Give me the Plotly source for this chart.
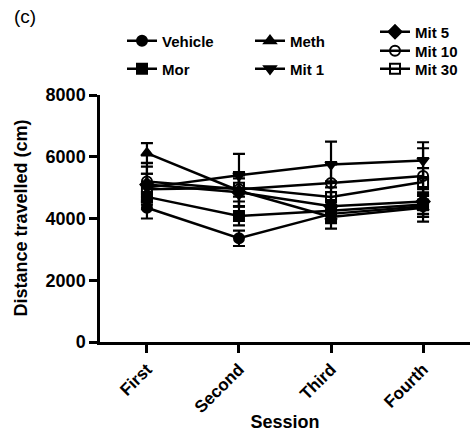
import plotly.graph_objects as go

sessions = ["First", "Second", "Third", "Fourth"]

series_names = ["Vehicle", "Mor", "Meth", "Mit 1", "Mit 5", "Mit 10", "Mit 30"]
vehicle = [4350, 3360, 4150, 4400]
vehicle_err = [350, 250, 300, 350]
mor = [4700, 4080, 4250, 4450]
mor_err = [400, 300, 350, 400]
meth = [6120, 4900, 4050, 4350]
meth_err = [320, 500, 380, 450]
mit1 = [5000, 5400, 5750, 5880]
mit1_err = [450, 690, 740, 590]
mit5 = [5100, 4850, 4400, 4550]
mit5_err = [580, 450, 450, 400]
mit10 = [5200, 4950, 5150, 5380]
mit10_err = [590, 550, 600, 895]
mit30 = [4950, 5000, 4700, 5180]
mit30_err = [500, 450, 500, 450]

yticks = [0, 2000, 4000, 6000, 8000]

values = [vehicle, mor, meth, mit1, mit5, mit10, mit30]
errors = [vehicle_err, mor_err, meth_err, mit1_err, mit5_err, mit10_err, mit30_err]
symbols = ["circle", "square", "triangle-up", "triangle-down", "diamond", "circle-open", "square-open"]

# legend entry placement (container pixels): left x, centre y
legend_pos = [(122, 41), (122, 69), (250, 41), (250, 69), (375, 32), (375, 51), (375, 69)]

BOLD = "Liberation Sans, Arial, sans-serif"
W, H = 470, 432

fig = go.Figure()
legend_layout = {}
for i, (name, v, e, s) in enumerate(zip(series_names, values, errors, symbols)):
    key = "legend" if i == 0 else f"legend{i + 1}"
    fig.add_trace(go.Scatter(
        x=sessions, y=v, name=name, mode="lines+markers",
        line=dict(color="black", width=2.5),
        marker=dict(symbol=s, size=10, color="black",
                    line=dict(color="black", width=2)),
        error_y=dict(type="data", array=e, visible=True, color="black",
                     thickness=2.2, width=6),
        legend=key,
    ))
    lx, ly = legend_pos[i]
    legend_layout[key] = dict(
        font=dict(family=BOLD, size=15, color="black", weight="bold"),
        bgcolor="rgba(0,0,0,0)", xref="container", yref="container",
        xanchor="left", yanchor="middle", itemwidth=30,
        x=lx / W, y=1 - ly / H,
    )

fig.update_layout(
    width=W, height=H,
    margin=dict(l=100, r=0, t=95, b=90, autoexpand=False),
    paper_bgcolor="white", plot_bgcolor="white",
    font=dict(family=BOLD, color="black"),
    showlegend=True,
    **legend_layout,
    xaxis=dict(
        type="category", range=[-0.51, 3.51],
        showline=True, linecolor="black", linewidth=2.5,
        ticks="outside", ticklen=8, tickwidth=2.5, tickcolor="black",
        tickangle=-45, showgrid=False, zeroline=False,
        tickfont=dict(family=BOLD, size=17, color="black", weight="bold"),
        title=dict(text="Session", standoff=4,
                   font=dict(family=BOLD, size=18, color="black", weight="bold")),
        automargin=True,
    ),
    yaxis=dict(
        range=[0, 8000], tickvals=yticks, ticktext=[str(t) for t in yticks],
        showline=True, linecolor="black", linewidth=2.5,
        ticks="outside", ticklen=8, tickwidth=2.5, tickcolor="black",
        showgrid=False, zeroline=False,
        tickfont=dict(family=BOLD, size=18, color="black", weight="bold"),
        automargin=False,
    ),
    annotations=[
        dict(text="(c)", xref="paper", yref="paper", x=-0.238, y=1.316,
             xanchor="left", yanchor="middle", showarrow=False,
             font=dict(family=BOLD, size=19, color="black")),
        dict(text="<b>Distance travelled (cm)</b>", xref="paper", yref="paper",
             x=-0.216, y=0.5, xanchor="center", yanchor="middle",
             textangle=-90, showarrow=False,
             font=dict(family=BOLD, size=18, color="black")),
    ],
)

fig.write_html("out.html", config={"displayModeBar": False},
               post_script="document.body.style.margin='0';")
